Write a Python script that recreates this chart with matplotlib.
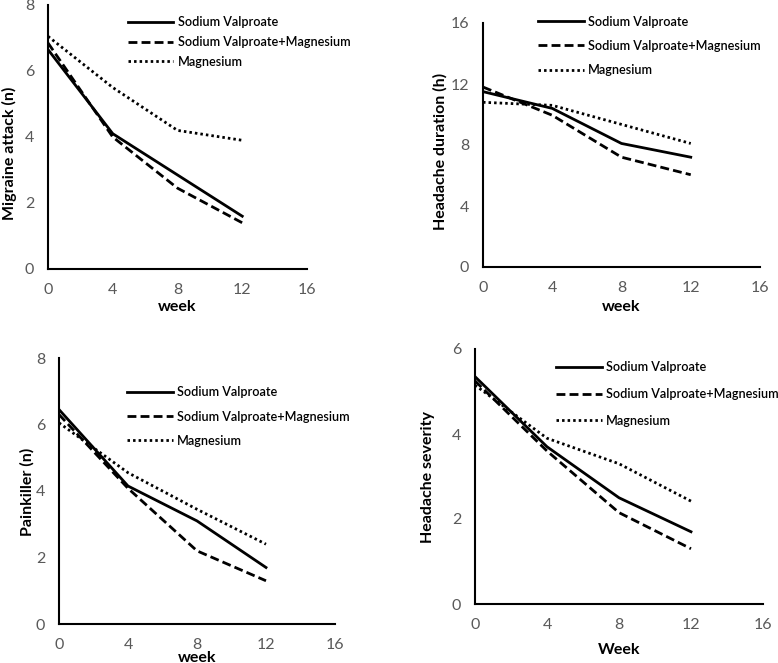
import matplotlib
matplotlib.use("Agg")
import matplotlib.pyplot as plt

plt.rcParams['font.family'] = ['Lato', 'DejaVu Sans']

weeks = [0, 4, 8, 12]
series_names = ['Sodium Valproate', 'Sodium Valproate+Magnesium', 'Magnesium']

# migraine attack (n)
attack_sv = [6.65, 4.1, 2.85, 1.6]
attack_svm = [6.85, 4.0, 2.45, 1.4]
attack_mg = [7.05, 5.5, 4.2, 3.9]

# headache duration (h)
duration_sv = [11.5, 10.4, 8.1, 7.2]
duration_svm = [11.8, 9.95, 7.2, 6.05]
duration_mg = [10.8, 10.6, 9.35, 8.1]

# painkiller (n)
pain_sv = [6.45, 4.15, 3.1, 1.7]
pain_svm = [6.3, 4.08, 2.2, 1.3]
pain_mg = [6.05, 4.55, 3.45, 2.4]

# headache severity
severity_sv = [5.35, 3.7, 2.5, 1.7]
severity_svm = [5.25, 3.6, 2.15, 1.3]
severity_mg = [5.15, 3.9, 3.3, 2.42]

W, H = 778, 663
fig = plt.figure(figsize=(W / 100, H / 100), dpi=100)

styles = [dict(ls='-', lw=2.0),
          dict(ls=(0, (3.2, 1.5)), lw=2.0),
          dict(ls=(0, (0.9, 1.1)), lw=2.0)]

panels = [
    # axes box in pixels: left, top, right, bottom
    dict(box=(48, 5, 307, 269), data=(attack_sv, attack_svm, attack_mg),
         ymax=8, ystep=2, ylabel='Migraine attack (n)', xlabel='week',
         ylab=(-0.15, 0.44), xlab=(0.5, -0.144),
         leg=(128, 23), spacing=0.6),
    dict(box=(483, 23, 760, 267), data=(duration_sv, duration_svm, duration_mg),
         ymax=16, ystep=4, ylabel='Headache duration (h)', xlabel='week',
         ylab=(-0.155, 0.475), xlab=(0.5, -0.164),
         leg=(538, 22), spacing=0.98),
    dict(box=(59, 358, 335, 624), data=(pain_sv, pain_svm, pain_mg),
         ymax=8, ystep=2, ylabel='Painkiller (n)', xlabel='week',
         ylab=(-0.116, 0.496), xlab=(0.5, -0.126),
         leg=(127, 393), spacing=0.95),
    dict(box=(475, 349, 763, 604), data=(severity_sv, severity_svm, severity_mg),
         ymax=6, ystep=2, ylabel='Headache severity', xlabel='Week',
         ylab=(-0.163, 0.498), xlab=(0.5, -0.18),
         leg=(556, 368), spacing=1.15),
]

fs_leg = 9.1
for p in panels:
    l, t, r, b = p['box']
    ax = fig.add_axes([l / W, 1 - b / H, (r - l) / W, (b - t) / H])
    for vals, name, st in zip(p['data'], series_names, styles):
        ax.plot(weeks, vals, color='black', label=name, **st)
    ax.set_xlim(0, 16)
    ax.set_ylim(0, p['ymax'])
    ax.set_xticks([0, 4, 8, 12, 16])
    ax.set_yticks(range(0, p['ymax'] + 1, p['ystep']))
    for s in ('top', 'right'):
        ax.spines[s].set_visible(False)
    for s in ('left', 'bottom'):
        ax.spines[s].set_linewidth(1.5)
    ax.tick_params(length=0, pad=10, labelsize=11.5, labelcolor='#595959')
    ax.set_ylabel(p['ylabel'], fontsize=11.5, fontweight='bold')
    ax.yaxis.label.set_va('center')
    ax.yaxis.set_label_coords(*p['ylab'])
    ax.set_xlabel(p['xlabel'], fontsize=11.5, fontweight='bold')
    ax.xaxis.label.set_va('center')
    ax.xaxis.set_label_coords(*p['xlab'])
    lx, ly = p['leg']
    ax.legend(loc='upper left', bbox_to_anchor=(lx / W, 1 - (ly - 6.5) / H),
              bbox_transform=fig.transFigure, frameon=False, borderpad=0,
              borderaxespad=0, handlelength=3.6, handletextpad=0.35,
              labelspacing=p['spacing'], prop=dict(size=fs_leg, weight='semibold'))

fig.savefig('out.png', dpi=100)
